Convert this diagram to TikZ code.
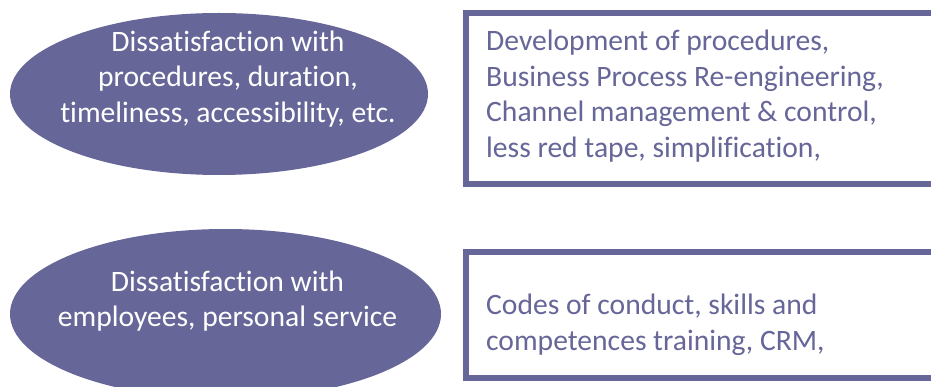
\documentclass[tikz,border=0pt]{standalone}
\usepackage{fontspec}
\setmainfont{Carlito}[Ligatures=NoCommon]
\usetikzlibrary{shapes.geometric}
\definecolor{slate}{HTML}{666699}

\begin{document}
\begin{tikzpicture}[x=1pt, y=-1pt,
    blob/.style={ellipse, fill=slate, inner sep=0pt},
    blobtext/.style={white, align=center, inner sep=0pt, font=\fontsize{29.6}{35.5}\selectfont},
    frame/.style={draw=slate, line width=6pt, fill=white, inner sep=0pt},
    frametext/.style={slate, align=left, anchor=west, inner sep=0pt, font=\fontsize{29.6}{35.5}\selectfont}]
				\useasboundingbox (0, 0) rectangle (931, 387);
				\clip (0, 0) rectangle (931, 387);

				% procedures
				\node [blob, minimum width=418pt, minimum height=162pt] (blobA) at (219, 94) {};
				\node [blobtext] (blobAtxt) at (228, 79) {Dissatisfaction with\\procedures, duration,\\timeliness, accessibility, etc.};
				\node [frame, minimum width=479pt, minimum height=171.5pt] (frameA) at (705.5, 98.75) {};
				\node [frametext] (frameAtxt) at (486, 96) {Development of procedures,\\Business Process Re-engineering,\\Channel management \& control,\\less red tape, simplification,};

				% employees
				\node [blob, minimum width=431pt, minimum height=170pt] (blobB) at (225.5, 314) {};
				\node [blobtext] (blobBtxt) at (227.5, 301) {Dissatisfaction with\\employees, personal service};
				\node [frame, minimum width=479pt, minimum height=125pt] (frameB) at (705.5, 315) {};
				\node [frametext] (frameBtxt) at (486, 325) {Codes of conduct, skills and\\competences training, CRM,};
			\end{tikzpicture}
\end{document}
